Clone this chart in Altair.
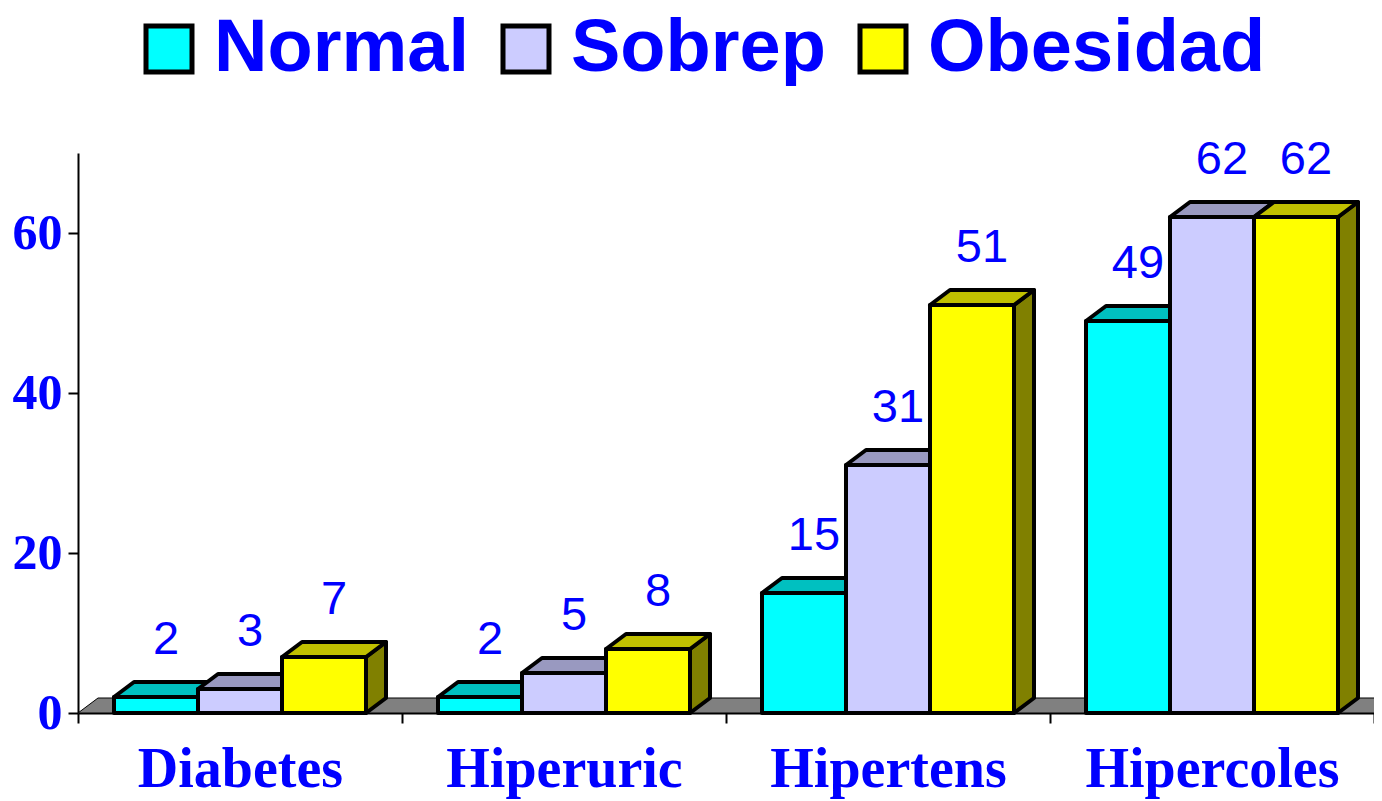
import altair as alt
import pandas as pd

# ---- data ----
categories = ["Diabetes", "Hiperuric", "Hipertens", "Hipercoles"]
series = ["Normal", "Sobrep", "Obesidad"]
normal = [2, 2, 15, 49]
sobrep = [3, 5, 31, 62]
obesidad = [7, 8, 51, 62]

# ---- styles ----
BLUE = "#0000FF"
face_colors = ["#00FFFF", "#CCCCFF", "#FFFF00"]
top_colors = ["#00C0C0", "#9999C0", "#C0C000"]
side_colors = ["#008080", "#666699", "#808000"]

W, H = 1296, 560
YMAX = 70
U = W / len(categories)          # pixels per category
BAR = 84 / U                     # bar width in x units
OFF = (1 - 3 * BAR) / 2          # group offset inside category
DX = 20 / U                      # 3D depth, x units
DH = 15 * YMAX / H               # 3D depth, y units

rows = []
for i, cat in enumerate(categories):
    for j, (s, vals) in enumerate(zip(series, [normal, sobrep, obesidad])):
        v = vals[i]
        x0 = i + OFF + j * BAR
        x1 = x0 + BAR
        for k in (0, 1):
            rows.append(dict(
                cat=cat, serie=s, bar=f"{i}-{j}", k=k, v=v, zero=0,
                x0=x0, x1=x1, xc=x0 + BAR / 2 + DX / 2, top_back=v + DH,
                side_x=x1 + k * DX, side_y=v + k * DH, side_y2=k * DH,
                top_y=v + k * DH, top_x=x0 + k * DX, top_x2=x1 + k * DX,
            ))
df = pd.DataFrame(rows)
floor = pd.DataFrame({"fy": [0, DH], "fx": [0, DX], "fx2": [len(categories), len(categories) + DX]})

xs = alt.Scale(domain=[0, len(categories)], nice=False, zero=False)
ys = alt.Scale(domain=[0, YMAX], nice=False, zero=True)

label_list = "[" + ",".join(f"'{c}'" for c in categories) + ",'']"
x_axis = alt.Axis(
    values=list(range(len(categories) + 1)), labelExpr=f"{label_list}[datum.value]",
    labelOffset=U / 2, labelFlush=False, labelOverlap=False, grid=False, title=None,
    tickSize=10, tickColor="black", tickWidth=2, domainColor="black", domainWidth=2,
    labelFont="Liberation Serif", labelFontWeight="bold", labelFontSize=56,
    labelColor=BLUE, labelPadding=19, labelLimit=1000,
)
y_axis = alt.Axis(
    values=[0, 20, 40, 60], grid=False, title=None,
    tickSize=10, tickColor="black", tickWidth=2, domainColor="black", domainWidth=2,
    labelFont="Liberation Serif", labelFontWeight="bold", labelFontSize=50,
    labelColor=BLUE, labelPadding=6,
)

floor_layer = alt.Chart(floor).mark_area(
    orient="horizontal", fill="#808080", stroke="black", strokeWidth=1, clip=True
).encode(
    y=alt.Y("fy:Q", scale=ys, axis=y_axis, stack=None),
    x=alt.X("fx:Q", scale=xs, axis=x_axis, stack=None),
    x2="fx2:Q",
)

side_layer = alt.Chart(df).mark_area(
    orient="vertical", stroke="black", strokeWidth=4, strokeJoin="round"
).encode(
    x=alt.X("side_x:Q", scale=xs, axis=x_axis),
    y=alt.Y("side_y:Q", scale=ys, axis=y_axis, stack=None),
    y2="side_y2:Q",
    color=alt.Color("serie:N", scale=alt.Scale(domain=series, range=side_colors), legend=None),
    detail="bar:N",
)

top_layer = alt.Chart(df).mark_area(
    orient="horizontal", stroke="black", strokeWidth=4, strokeJoin="round"
).encode(
    y=alt.Y("top_y:Q", scale=ys, axis=y_axis),
    x=alt.X("top_x:Q", scale=xs, axis=x_axis, stack=None),
    x2="top_x2:Q",
    color=alt.Color("serie:N", scale=alt.Scale(domain=series, range=top_colors), legend=None),
    detail="bar:N",
)

front_layer = alt.Chart(df).transform_filter("datum.k == 0").mark_rect(
    stroke="black", strokeWidth=4, strokeJoin="round"
).encode(
    x=alt.X("x0:Q", scale=xs, axis=x_axis),
    x2="x1:Q",
    y=alt.Y("v:Q", scale=ys, axis=y_axis, stack=None),
    y2="zero:Q",
    color=alt.Color(
        "serie:N", scale=alt.Scale(domain=series, range=face_colors),
        legend=alt.Legend(
            title=None, orient="none", legendX=54, legendY=-141, direction="horizontal",
            symbolType="square", symbolSize=2116, symbolStrokeColor="black",
            symbolStrokeWidth=5, symbolOpacity=1,
            labelFont="Liberation Sans", labelFontSize=74, labelFontWeight="bold",
            labelColor=BLUE, labelLimit=2000, labelOffset=8, columnPadding=20, padding=0,
        ),
    ),
)

text_layer = alt.Chart(df).transform_filter("datum.k == 0").mark_text(
    dy=-42, fontSize=47, font="Liberation Sans", color=BLUE, baseline="middle"
).encode(
    x=alt.X("xc:Q", scale=xs, axis=x_axis),
    y=alt.Y("top_back:Q", scale=ys, axis=y_axis),
    text="v:Q",
)

chart = alt.layer(
    floor_layer, side_layer, top_layer, front_layer, text_layer
).resolve_scale(color="independent").properties(
    width=W, height=H,
    padding={"left": 70, "top": 145, "right": 0, "bottom": 93},
    autosize="none",
).configure_view(stroke=None)

chart.save("out.html", embed_options={"renderer": "svg", "actions": False})
